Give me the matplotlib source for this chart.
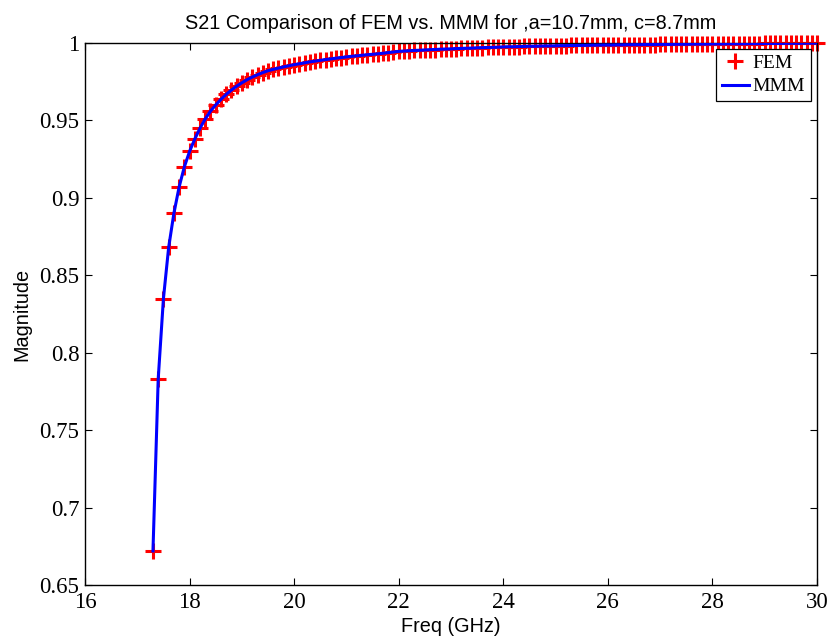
import matplotlib
matplotlib.use("Agg")
import matplotlib.pyplot as plt
import numpy as np

freq_start, freq_step = 17.3, 0.1
fem_mag = [
    0.6720, 0.7830, 0.8350, 0.8680, 0.8900, 0.9070, 0.9200, 0.9300, 0.9380, 0.9450,
    0.9510, 0.9560, 0.9600, 0.9636, 0.9668, 0.9696, 0.9721, 0.9743, 0.9763, 0.9780,
    0.9795, 0.9809, 0.9821, 0.9830, 0.9838, 0.9846, 0.9853,
    0.9860, 0.9866, 0.9872, 0.9878, 0.9883, 0.9888, 0.9893, 0.9897, 0.9902, 0.9906,
    0.9910, 0.9914, 0.9917, 0.9921, 0.9924, 0.9927, 0.9930, 0.9934, 0.9938, 0.9942,
    0.9946,
    0.9948, 0.9950, 0.9952, 0.9953, 0.9955, 0.9957, 0.9958, 0.9960, 0.9961, 0.9962,
    0.9964, 0.9965, 0.9966, 0.9967, 0.9969, 0.9970, 0.9971, 0.9972, 0.9973, 0.9975,
    0.9976, 0.9976, 0.9977, 0.9978, 0.9979, 0.9979, 0.9980, 0.9981, 0.9981, 0.9982,
    0.9983, 0.9983, 0.9984, 0.9984, 0.9985, 0.9985, 0.9986, 0.9986, 0.9987, 0.9987,
    0.9987, 0.9988, 0.9988, 0.9989, 0.9989, 0.9989, 0.9990, 0.9990, 0.9990, 0.9991,
    0.9991, 0.9991, 0.9992, 0.9992, 0.9992, 0.9993, 0.9993, 0.9993, 0.9993, 0.9994,
    0.9994, 0.9994, 0.9995, 0.9995, 0.9995, 0.9995, 0.9996, 0.9996, 0.9996, 0.9997,
    0.9997, 0.9997, 0.9997, 0.9998, 0.9998, 0.9998, 0.9998, 0.9999, 0.9999, 0.9999,
]
mmm_mag = list(fem_mag)
freq = np.round(np.arange(len(fem_mag)) * freq_step + freq_start, 1)

xticks = [16, 18, 20, 22, 24, 26, 28, 30]
yticks = [0.65, 0.7, 0.75, 0.8, 0.85, 0.9, 0.95, 1.0]
ytick_labels = ["0.65", "0.7", "0.75", "0.8", "0.85", "0.9", "0.95", "1"]

fig = plt.figure(figsize=(8.30, 6.39), dpi=100)
ax = fig.add_axes([85/830, 1-585/639, (817-85)/830, (585-43)/639])

ax.plot(freq, fem_mag, linestyle="none", marker="+", color=(1, 0, 0),
        markersize=11, markeredgewidth=2.2, label="FEM", clip_on=False, zorder=2)
ax.plot(freq, mmm_mag, color=(0, 0, 1), linewidth=2.2, label="MMM", zorder=3)

ax.set_xlim(16, 30)
ax.set_ylim(0.65, 1.0)
ax.set_xticks(xticks)
ax.set_yticks(yticks)
ax.set_xticklabels([str(t) for t in xticks])
ax.set_yticklabels(ytick_labels)
ax.tick_params(direction="in", length=5, width=0.8, top=True, right=True,
               labelsize=16.5)
ax.tick_params(axis="x", pad=5)
ax.tick_params(axis="y", pad=4)
for lab in ax.get_xticklabels() + ax.get_yticklabels():
    lab.set_family("Liberation Serif")
for sp in ax.spines.values():
    sp.set_linewidth(1.0)
    sp.set_color("black")

ax.set_title("S21 Comparison of FEM vs. MMM for ,a=10.7mm, c=8.7mm",
             family="Liberation Sans", fontsize=14.3, pad=10)
ax.set_xlabel("Freq (GHz)", family="Liberation Sans", fontsize=14.3, labelpad=3)
ax.set_ylabel("Magnitude", family="Liberation Sans", fontsize=14.3, labelpad=6)

leg = ax.legend(loc="upper right", prop={"family": "Liberation Serif", "size": 14},
                fancybox=False, edgecolor="black", framealpha=1,
                borderaxespad=0.3, handlelength=1.4, handletextpad=0.2,
                borderpad=0.3, labelspacing=0.28)
leg.get_frame().set_linewidth(0.9)

fig.savefig("out.png", dpi=100)
